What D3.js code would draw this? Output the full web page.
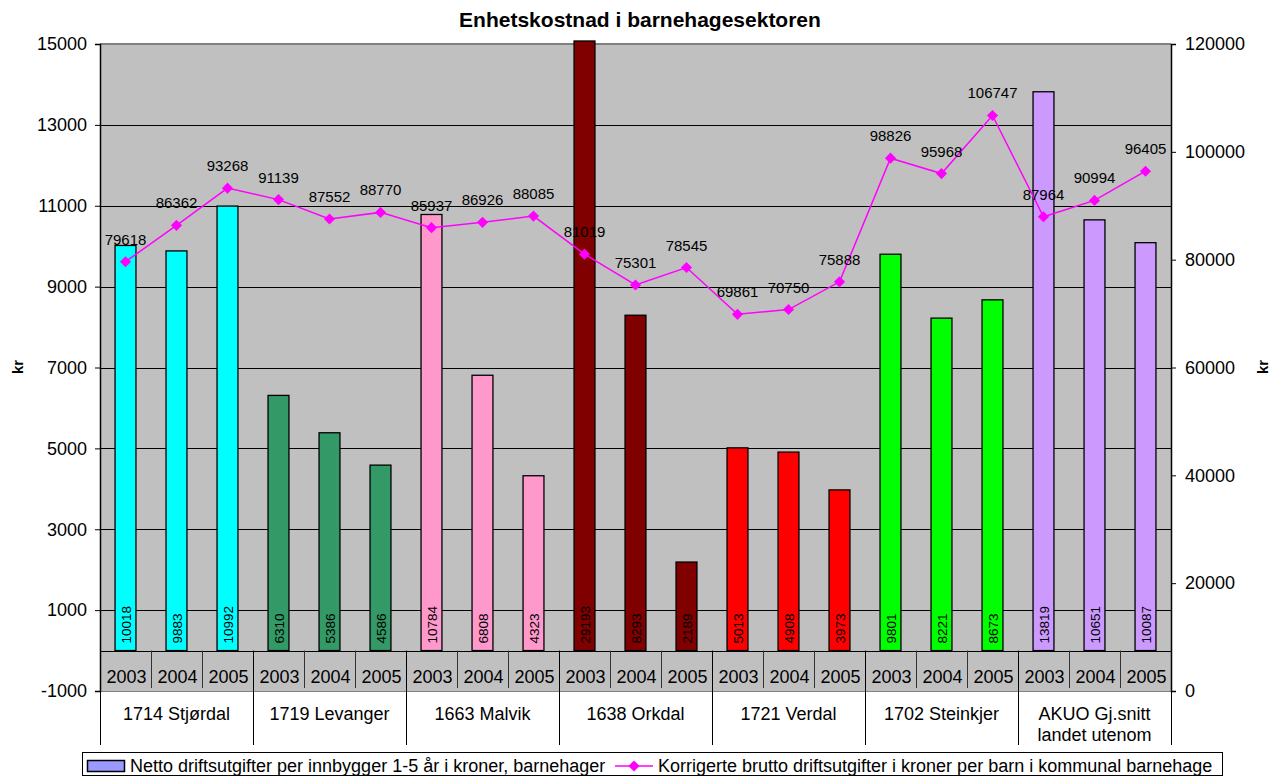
<!DOCTYPE html>
<html>
<head>
<meta charset="utf-8">
<script src="https://cdn.jsdelivr.net/npm/d3@7"></script>
<style>
  body { margin: 0; background: #fff; }
  text { font-family: Arial, "Liberation Sans", sans-serif; fill: #000; }
</style>
</head>
<body>
<div id="chart"></div>
<script>
/* Enhetskostnad i barnehagesektoren - bar + line, two axes */

const width = 1284, height = 776,
    margin = ({top: 44, right: 113, bottom: 85, left: 100});

const municipalities = ["1714 Stjørdal", "1719 Levanger", "1663 Malvik", "1638 Orkdal",
    "1721 Verdal", "1702 Steinkjer", "AKUO Gj.snitt|landet utenom"];
const years = ["2003", "2004", "2005"];
const groupColors = ["#00FFFF", "#339966", "#FF99CC", "#800000", "#FF0000", "#00FF00", "#CC99FF"];

// Netto driftsutgifter per innbygger 1-5 år (left axis)
const netto = [10018, 9883, 10992, 6310, 5386, 4586, 10784, 6808, 4323, 29193, 8293, 2189,
    5013, 4908, 3973, 9801, 8221, 8673, 13819, 10651, 10087];
// Korrigerte brutto driftsutgifter per barn (right axis)
const brutto = [79618, 86362, 93268, 91139, 87552, 88770, 85937, 86926, 88085, 81019, 75301, 78545,
    69861, 70750, 75888, 98826, 95968, 106747, 87964, 90994, 96405];

const leftTicks = [-1000, 1000, 3000, 5000, 7000, 9000, 11000, 13000, 15000];
const rightTicks = [0, 20000, 40000, 60000, 80000, 100000, 120000];

const data = netto.map((v, i) => ({
    i: i,
    group: Math.floor(i / 3),
    year: years[i % 3],
    netto: v,
    brutto: brutto[i]
}));

const FONT = "Arial, 'Liberation Sans', sans-serif";

const svg = d3.select("#chart")
    .append("svg")
    .attr("width", width)
    .attr("height", height);

const plotBottom = height - margin.bottom; // 691
const plotRight = width - margin.right;

let x = d3.scaleBand()
    .domain(data.map(d => d.i))
    .range([margin.left, plotRight]);

let yL = d3.scaleLinear()
    .domain([-1000, 15000])
    .range([plotBottom, margin.top]);

let yR = d3.scaleLinear()
    .domain([0, 120000])
    .range([plotBottom, margin.top]);

// plot background
svg.append("rect")
    .attr("x", margin.left)
    .attr("y", margin.top)
    .attr("width", plotRight - margin.left)
    .attr("height", plotBottom - margin.top)
    .attr("fill", "#C0C0C0");

svg.append("line")
    .attr("x1", margin.left).attr("x2", plotRight)
    .attr("y1", margin.top).attr("y2", margin.top)
    .attr("stroke", "#808080").attr("stroke-width", 2);

// gridlines
svg.append("g")
  .selectAll("line")
  .data(leftTicks.filter(t => t > -1000 && t < 15000))
  .join("line")
    .attr("x1", margin.left).attr("x2", plotRight)
    .attr("y1", d => Math.round(yL(d)) + 0.5)
    .attr("y2", d => Math.round(yL(d)) + 0.5)
    .attr("stroke", "#000");

// zero line + bottom line
svg.append("line")
    .attr("x1", margin.left).attr("x2", plotRight)
    .attr("y1", Math.round(yL(0)) + 0.5).attr("y2", Math.round(yL(0)) + 0.5)
    .attr("stroke", "#000");
svg.append("line")
    .attr("x1", margin.left).attr("x2", plotRight)
    .attr("y1", plotBottom + 0.5).attr("y2", plotBottom + 0.5)
    .attr("stroke", "#808080");

// bars (Orkdal 2003 runs off the top of the axis)
const barW = x.bandwidth() * 0.41;
const barTop = d => d.netto > 15000 ? yL(15000) - 3 : yL(d.netto);
svg.append("g")
  .selectAll("rect")
  .data(data)
  .join("rect")
    .attr("x", d => x(d.i) + (x.bandwidth() - barW) / 2)
    .attr("y", barTop)
    .attr("width", barW)
    .attr("height", d => yL(0) - barTop(d))
    .attr("fill", d => groupColors[d.group])
    .attr("stroke", "#000")
    .attr("stroke-width", 1.3);

// bar value labels (vertical)
svg.append("g")
  .selectAll("text")
  .data(data)
  .join("text")
    .attr("transform", d => `translate(${x(d.i) + x.bandwidth() / 2 + 1},${yL(0) - 7}) rotate(-90)`)
    .attr("dy", "0.35em")
    .attr("font-size", 13.5)
    .text(d => d.netto);

// year labels and separators
svg.append("g")
  .selectAll("text")
  .data(data)
  .join("text")
    .attr("x", d => x(d.i) + x.bandwidth() / 2 + 1)
    .attr("y", 683)
    .attr("text-anchor", "middle")
    .attr("font-size", 18)
    .text(d => d.year);

const seps = d3.range(0, 22);
svg.append("g")
  .selectAll("line")
  .data(seps)
  .join("line")
    .attr("x1", d => Math.round(margin.left + d * x.step()) + 0.5)
    .attr("x2", d => Math.round(margin.left + d * x.step()) + 0.5)
    .attr("y1", yL(0))
    .attr("y2", d => d % 3 === 0 ? 745 : 688)
    .attr("stroke", d => d % 3 === 0 ? "#000" : "#333")
    .attr("stroke-width", 1);

// municipality labels
const munG = svg.append("g");
municipalities.forEach((m, g) => {
    let cx = margin.left + (g * 3 + 1.5) * x.step();
    m.split("|").forEach((l, k) => {
        munG.append("text")
            .attr("x", cx)
            .attr("y", 720 + k * 21)
            .attr("text-anchor", "middle")
            .attr("font-size", 18)
            .text(l);
    });
});

// axes (plain hyphen for negatives, no thousands separator)
svg.append("g")
    .attr("transform", `translate(${margin.left},0)`)
    .call(d3.axisLeft(yL).tickValues(leftTicks).tickFormat(d => String(d))
        .tickSizeOuter(0).tickSize(5).tickPadding(8))
    .call(g => g.select(".domain").attr("stroke", "#000").attr("stroke-width", 1.5))
    .call(g => g.selectAll("text").attr("font-size", 18).attr("font-family", FONT));

svg.append("g")
    .attr("transform", `translate(${plotRight},0)`)
    .call(d3.axisRight(yR).tickValues(rightTicks).tickFormat(d => String(d))
        .tickSizeOuter(0).tickSize(5).tickPadding(9))
    .call(g => g.select(".domain").attr("stroke", "#000").attr("stroke-width", 1.5))
    .call(g => g.selectAll("text").attr("font-size", 18).attr("font-family", FONT));

// line series
let line = d3.line()
    .x(d => x(d.i) + x.bandwidth() / 2)
    .y(d => yR(d.brutto));

svg.append("path")
    .datum(data)
    .attr("d", line)
    .attr("fill", "none")
    .attr("stroke", "#FF00FF")
    .attr("stroke-width", 1.5);

const diamond = d3.symbol(d3.symbolSquare, 62);
svg.append("g")
  .selectAll("path")
  .data(data)
  .join("path")
    .attr("transform", d => `translate(${x(d.i) + x.bandwidth() / 2},${yR(d.brutto)}) rotate(45)`)
    .attr("d", diamond)
    .attr("fill", "#FF00FF");

svg.append("g")
  .selectAll("text")
  .data(data)
  .join("text")
    .attr("x", d => x(d.i) + x.bandwidth() / 2)
    .attr("y", d => yR(d.brutto) - 17)
    .attr("text-anchor", "middle")
    .attr("font-size", 15)
    .text(d => d.brutto);

// title + axis titles
svg.append("text")
    .attr("x", 640)
    .attr("y", 27)
    .attr("text-anchor", "middle")
    .attr("font-size", 21)
    .attr("font-weight", "bold")
    .text("Enhetskostnad i barnehagesektoren");

svg.append("text")
    .attr("transform", "translate(23,367) rotate(-90)")
    .attr("text-anchor", "middle")
    .attr("font-size", 15)
    .attr("font-weight", "bold")
    .text("kr");

svg.append("text")
    .attr("transform", "translate(1268,367) rotate(-90)")
    .attr("text-anchor", "middle")
    .attr("font-size", 15)
    .attr("font-weight", "bold")
    .text("kr");

// legend
const legend = svg.append("g");
legend.append("rect")
    .attr("x", 82.5).attr("y", 752.5)
    .attr("width", 1140).attr("height", 23)
    .attr("fill", "#fff")
    .attr("stroke", "#000");
legend.append("rect")
    .attr("x", 87.5).attr("y", 760.5)
    .attr("width", 37).attr("height", 11)
    .attr("fill", "#9999FF")
    .attr("stroke", "#000")
    .attr("stroke-width", 1.5);
legend.append("text")
    .attr("x", 130).attr("y", 772)
    .attr("font-size", 18)
    .text("Netto driftsutgifter per innbygger 1-5 år i kroner, barnehager");
legend.append("line")
    .attr("x1", 615).attr("x2", 653)
    .attr("y1", 766).attr("y2", 766)
    .attr("stroke", "#FF00FF").attr("stroke-width", 1.5);
legend.append("path")
    .attr("transform", "translate(634,766) rotate(45)")
    .attr("d", diamond)
    .attr("fill", "#FF00FF");
legend.append("text")
    .attr("x", 658).attr("y", 772)
    .attr("font-size", 18)
    .text("Korrigerte brutto driftsutgifter i kroner per barn i kommunal barnehage");
</script>
</body>
</html>
